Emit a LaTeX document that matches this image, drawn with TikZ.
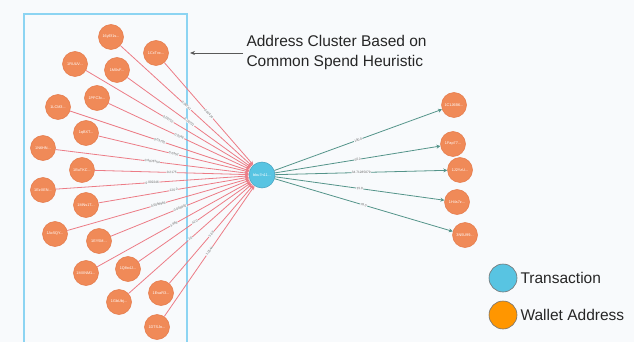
\documentclass[tikz,border=0pt]{standalone}
\usepackage{fontspec}
\setmainfont{Liberation Sans}
\usetikzlibrary{arrows.meta}
\definecolor{bgc}{RGB}{248,250,252}
\definecolor{orn}{RGB}{240,138,88}
\definecolor{ornb}{RGB}{228,120,72}
\definecolor{blu}{RGB}{88,196,226}
\definecolor{blub}{RGB}{70,160,190}
\definecolor{redl}{RGB}{236,124,134}
\definecolor{grnl}{RGB}{84,148,138}
\definecolor{boxc}{RGB}{140,212,242}
\definecolor{lorn}{RGB}{255,150,0}
\begin{document}
\begin{tikzpicture}[x=1pt,y=-1pt,
  addr/.style={circle,fill=orn,draw=ornb,line width=0.5pt,minimum size=25pt,inner sep=0pt,text=white,font=\fontsize{3.8}{4}\selectfont},
  txn/.style={circle,fill=blu,draw=blub,line width=0.5pt,minimum size=26pt,inner sep=0pt,text=white,font=\fontsize{3.8}{4}\selectfont},
  inedge/.style={draw=redl,line width=0.8pt,-{Stealth[length=4pt,width=4pt]}},
  outedge/.style={draw=grnl,line width=0.8pt,-{Stealth[length=4pt,width=4pt]}},
  elab/.style={sloped,pos=0.5,fill=bgc,inner sep=0.4pt,text=black!60,font=\fontsize{3.2}{3.5}\selectfont},
  legc/.style={circle,minimum size=28pt,inner sep=0pt,line width=0.6pt},
  legt/.style={anchor=west,font=\fontsize{15.5}{17}\selectfont,text=black!85}]
\useasboundingbox (0,0) rectangle (634,342);
\fill[bgc] (0,0) rectangle (634,342);
\draw[boxc,line width=2pt] (24,343) -- (24,14) -- (187,14) -- (187,343);
\node[txn] (c) at (262,175) {bbu7n11...};
\foreach \n/\x/\y/\t/\w in {
  a1/111/37/16yEf1s/0.00761,
  a2/156/53/1CxTvx/0.01424,
  a3/75/64/1RUUV/0.00752,
  a4/117/70/1M0sF/0.00701,
  a5/97/98/1PFC3c/0.0246,
  a6/58/107/1LCM3/0.03792,
  a7/86/133/1qBXT/0.0352,
  a8/43/148/1N6HN/0.0078754,
  a9/82/170/1BuTKC/0.2175,
  a10/43/190/1EzXEN/0.002246,
  a11/86/205/1MNs1T/126.0,
  a12/55/234/1Ac5QY/0.0094966,
  a13/99/241/1EY5M/0.004802,
  a14/86/273/1MXNM1/3.868,
  a15/128/269/1Q8o4J/42.0,
  a16/119/302/1GbUbj/2.0,
  a17/161/293/1EvaR3/5.66,
  a18/157/327/1DTSJo/1.0544}{
  \node[addr] (\n) at (\x,\y) {\t...};
  \draw[inedge] (\n) -- node[elab]{\w} (c);
}
\foreach \n/\x/\y/\t/\w in {
  b1/454/105/1C1J6B6/100.0,
  b2/453/144/1Fap77/50.0,
  b3/460/170/1J2YzU/34.71285079,
  b4/457/202/1H4s7z/15.0,
  b5/465/235/3N5U99/78.0}{
  \node[addr] (\n) at (\x,\y) {\t...};
  \draw[outedge] (c) -- node[elab]{\w} (\n);
}
\node[anchor=west,align=left,font=\fontsize{15.5}{20}\selectfont,text=black!85] (note) at (243,52) {Address Cluster Based on\\Common Spend Heuristic};
\coordinate (boxedge) at (190,53);
\draw[black!65,line width=0.8pt,-{Stealth[length=5pt,width=4pt]}] (note.west |- 0,53) -- (boxedge);
\node[legc,fill=blu,draw=black!55] (l1) at (503,278) {};
\node[legt] (t1) at (517,278) {Transaction};
\node[legc,fill=lorn,draw=black!55] (l2) at (503,315) {};
\node[legt] (t2) at (517,315) {Wallet Address};
\end{tikzpicture}
\end{document}
